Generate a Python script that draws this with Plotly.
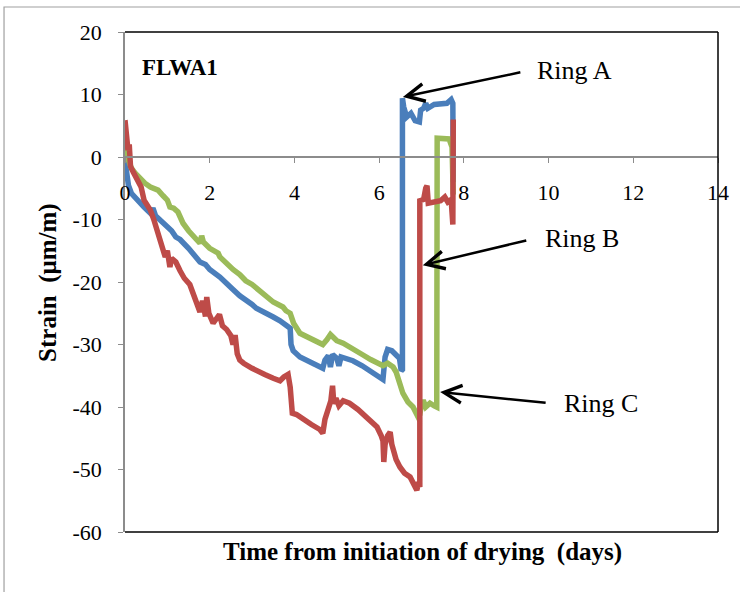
import plotly.graph_objects as go

# ---- data ----
ringA_x = [0.00, 0.03, 0.08, 0.15, 0.30, 0.45, 0.60, 0.66, 0.72, 0.90, 1.10, 1.20, 1.30, 1.50, 1.77, 1.90,
           2.00, 2.24, 2.40, 2.55, 2.71, 2.85, 3.00, 3.10, 3.30, 3.50, 3.66, 3.85, 3.90, 3.92, 3.97, 4.13,
           4.30, 4.50, 4.67, 4.72, 4.80, 4.85, 4.90, 5.00, 5.05, 5.10, 5.38, 5.60, 5.80, 6.00, 6.09, 6.14,
           6.20, 6.30, 6.40, 6.48, 6.52, 6.55, 6.55, 6.58, 6.65, 6.75, 6.85, 6.95, 6.98, 7.05, 7.10, 7.15,
           7.30, 7.45, 7.60, 7.70, 7.74, 7.75]
ringA_y = [-0.5, -2.5, -4.5, -5.8, -7.0, -8.0, -9.0, -8.2, -9.4, -10.6, -11.8, -12.8, -13.2, -14.6, -16.8, -17.2,
           -18.0, -19.2, -20.4, -21.2, -22.2, -22.8, -23.6, -24.2, -24.8, -25.6, -26.2, -27.0, -27.4, -30.0, -31.0, -32.0,
           -32.6, -33.2, -33.8, -32.5, -31.8, -33.6, -31.6, -32.2, -33.4, -32.0, -32.6, -33.4, -34.2, -35.0, -35.6, -32.0,
           -30.8, -31.0, -31.6, -32.2, -34.2, -34.0, 9.4, 8.0, 6.4, 7.0, 5.8, 5.6, 7.5, 7.8, 8.6, 7.8,
           8.4, 8.6, 8.6, 9.2, 8.6, -4.0]

ringB_x = [0.00, 0.03, 0.07, 0.10, 0.13, 0.20, 0.30, 0.38, 0.45, 0.55, 0.60, 0.68, 0.75, 0.80, 0.85, 0.90,
           0.95, 1.00, 1.06, 1.10, 1.20, 1.30, 1.40, 1.53, 1.62, 1.70, 1.77, 1.83, 1.90, 1.93, 1.98, 2.08,
           2.15, 2.23, 2.30, 2.40, 2.50, 2.55, 2.60, 2.65, 2.71, 2.80, 3.00, 3.10, 3.30, 3.50, 3.66, 3.75,
           3.85, 3.90, 3.95, 4.05, 4.20, 4.40, 4.60, 4.67, 4.72, 4.80, 4.86, 4.90, 4.93, 4.98, 5.05, 5.15,
           5.30, 5.50, 5.70, 5.85, 5.95, 6.05, 6.09, 6.11, 6.14, 6.20, 6.26, 6.30, 6.40, 6.49, 6.60, 6.73,
           6.80, 6.89, 6.93, 6.96, 6.96, 7.05, 7.10, 7.13, 7.16, 7.30, 7.45, 7.55, 7.62, 7.70, 7.74, 7.75]
ringB_y = [5.9, 4.5, 1.1, 2.0, -1.5, -2.5, -4.0, -4.8, -6.9, -8.0, -8.5, -10.0, -11.5, -12.8, -14.0, -14.4,
           -16.0, -15.0, -17.6, -16.2, -16.8, -18.2, -19.4, -20.4, -22.0, -24.0, -24.8, -23.0, -25.5, -22.4, -25.0, -26.6,
           -25.8, -25.2, -27.0, -27.6, -28.6, -30.0, -28.5, -31.5, -32.5, -33.0, -33.8, -34.2, -34.8, -35.4, -35.8, -35.2,
           -34.8, -36.8, -41.0, -41.2, -42.0, -42.8, -43.6, -44.2, -42.0, -40.5, -39.0, -36.6, -39.5, -38.6, -39.8, -39.0,
           -39.4, -40.4, -41.6, -42.4, -43.2, -44.6, -45.4, -48.8, -46.0, -44.6, -44.0, -46.0, -48.4, -49.6, -50.6, -51.2,
           -52.0, -53.3, -52.0, -52.8, -7.0, -6.8, -5.0, -4.6, -7.4, -7.2, -7.0, -6.4, -7.2, -6.8, -10.8, 6.0]

ringC_x = [0.00, 0.02, 0.05, 0.10, 0.15, 0.24, 0.35, 0.47, 0.60, 0.78, 0.90, 1.00, 1.06, 1.15, 1.25, 1.37,
           1.50, 1.60, 1.72, 1.77, 1.81, 1.85, 2.00, 2.20, 2.24, 2.40, 2.55, 2.71, 2.85, 3.00, 3.19, 3.35,
           3.50, 3.73, 3.80, 3.90, 3.98, 4.13, 4.30, 4.50, 4.67, 4.77, 4.85, 4.91, 5.00, 5.15, 5.38, 5.60,
           5.80, 6.00, 6.09, 6.20, 6.33, 6.40, 6.48, 6.56, 6.68, 6.80, 6.92, 6.96, 7.00, 7.04, 7.10, 7.20,
           7.30, 7.36, 7.37, 7.50, 7.65, 7.72, 7.75]
ringC_y = [4.3, 2.5, 0.0, -0.8, -1.8, -2.6, -3.4, -4.2, -4.8, -5.3, -6.2, -6.9, -8.0, -8.2, -8.8, -10.6,
           -11.8, -12.6, -13.6, -13.8, -12.6, -13.6, -14.6, -15.4, -16.0, -17.2, -18.0, -18.8, -19.8, -20.4, -21.4, -22.4,
           -23.2, -24.0, -24.6, -25.0, -26.6, -28.2, -28.8, -29.6, -30.0, -29.2, -28.4, -28.8, -29.4, -29.8, -30.6, -31.6,
           -32.4, -33.2, -33.4, -33.0, -33.6, -34.4, -36.4, -37.8, -39.2, -40.0, -41.6, -41.2, -39.6, -38.9, -40.0, -39.4,
           -39.8, -40.0, 3.0, 3.0, 2.9, 1.6, -6.0]

x_ticks = [0, 2, 4, 6, 8, 10, 12, 14]
y_ticks = [-60, -50, -40, -30, -20, -10, 0, 10, 20]
y_tick_labels = ["-60", "-50", "-40", "-30", "-20", "-10", "0", "10", "20"]

series = [
    ("Ring A", ringA_x, ringA_y, "#4A7EBB"),
    ("Ring C", ringC_x, ringC_y, "#9BBB59"),
    ("Ring B", ringB_x, ringB_y, "#BE4B48"),
]

SERIF = "Liberation Serif, Times New Roman, serif"

fig = go.Figure()
for name, xs, ys, col in series:
    fig.add_trace(go.Scatter(x=xs, y=ys, mode="lines", name=name,
                             line=dict(color=col, width=5.5), showlegend=False))

fig.update_layout(
    width=740, height=592,
    margin=dict(l=125, r=22, t=32, b=60),
    paper_bgcolor="white", plot_bgcolor="white",
    font=dict(family=SERIF, color="black", size=22),
    xaxis=dict(range=[0, 14], tickvals=x_ticks, ticks="outside", ticklen=5, tickcolor="#8C8C8C",
               showline=True, linecolor="#8C8C8C", linewidth=1.5, showgrid=False, zeroline=False,
               anchor="free", position=0.75, ticklabelstandoff=11,
               tickfont=dict(family=SERIF, size=22, color="black")),
    yaxis=dict(range=[-60, 20], tickvals=y_ticks, ticktext=y_tick_labels, ticks="outside", ticklen=5,
               tickcolor="#8C8C8C", showline=True, linecolor="#8C8C8C", linewidth=1.5, showgrid=False,
               zeroline=False, ticklabelstandoff=12, tickfont=dict(family=SERIF, size=22, color="black")),
)

# plot-area border (top, right, bottom black)
for (x0, y0, x1, y1) in [(0, 1, 1, 1), (1, 0, 1, 1), (0, 0, 1, 0)]:
    fig.add_shape(type="line", xref="paper", yref="paper", x0=x0, y0=y0, x1=x1, y1=y1,
                  line=dict(color="black", width=1.5))
# outer chart border
fig.add_shape(type="rect", xref="paper", yref="paper", x0=-0.204, y0=-0.2, x1=1.2, y1=1.05,
              line=dict(color="#A0A0A0", width=1.2), layer="below")

# titles
fig.add_annotation(text="<b>Time from initiation of drying  (days)</b>", xref="paper", yref="paper",
                   x=0.5025, y=-0.072, showarrow=False, font=dict(size=25, family=SERIF))
fig.add_annotation(text="<b>Strain  (μm/m)</b>", xref="paper", yref="paper", x=-0.157, y=0.5,
                   textangle=-90, showarrow=False, font=dict(size=25, family=SERIF))
fig.add_annotation(text="<b>FLWA1</b>", x=1.3, y=14.4, showarrow=False, font=dict(size=23, family=SERIF))

# ring labels and arrows
labels = [("Ring A", 10.62, 13.9, 6.56, 9.6, 119, -25),
          ("Ring B", 10.79, -12.96, 7.03, -17.3, 105, -25),
          ("Ring C", 11.24, -39.4, 7.44, -37.6, 107, 11)]
for txt, tx, ty, ax_, ay_, dx, dy in labels:
    fig.add_annotation(text=txt, x=tx, y=ty, showarrow=False, font=dict(size=26, family=SERIF))
    fig.add_annotation(text="", x=ax_, y=ay_, ax=dx, ay=dy, axref="pixel", ayref="pixel",
                       showarrow=True, arrowhead=5, arrowsize=1.4, arrowwidth=2.5, arrowcolor="black")

fig.write_html("out.html")
